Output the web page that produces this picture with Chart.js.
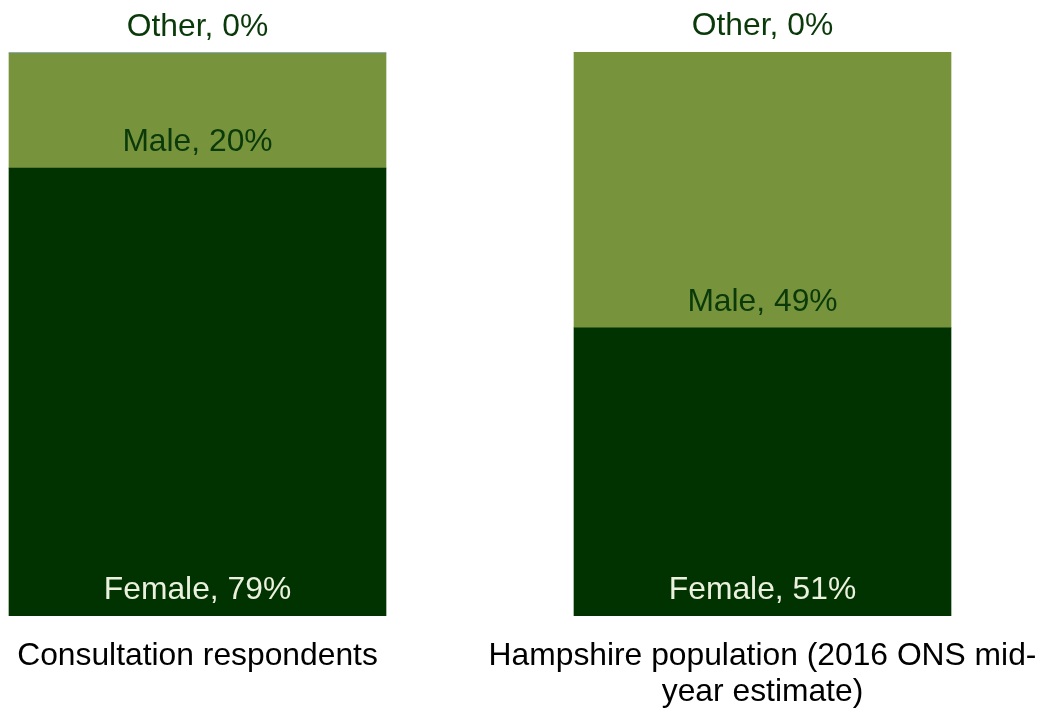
<!DOCTYPE html>
<html>
<head>
<meta charset="utf-8">
<script src="https://cdn.jsdelivr.net/npm/chart.js@4/dist/chart.umd.min.js"></script>
<style>
  html, body { margin: 0; padding: 0; background: #ffffff; overflow: hidden; }
  #wrap { width: 1047px; height: 708px; overflow: hidden; position: relative; }
  #c { position: absolute; left: -85px; top: 0; }
</style>
</head>
<body>
<div id="wrap"><canvas id="c" width="1132" height="708"></canvas></div>
<script>
// Categories (tick labels)
const categories = [
  ["Consultation respondents"],
  ["Hampshire population (2016 ONS mid-", "year estimate)"]
];

// Series values (percent)
const femaleValues = [79.4, 51.1];
const maleValues   = [20.4, 48.9];
const otherValues  = [0.2, 0];

const seriesNames = ["Female", "Male", "Other"];

const FONT = "'Liberation Sans', Arial, Helvetica, sans-serif";
const FONT_SIZE = 31.8;

const labelColors = ["#EBF1DE", "#0a3a0a", "#0a3a0a"];

const labelPlugin = {
  id: 'segLabels',
  afterDatasetsDraw(chart) {
    const ctx = chart.ctx;
    ctx.save();
    ctx.font = FONT_SIZE + "px " + FONT;
    ctx.textAlign = 'center';
    ctx.textBaseline = 'middle';
    chart.data.datasets.forEach((ds, di) => {
      const meta = chart.getDatasetMeta(di);
      meta.data.forEach((el, i) => {
        const v = ds.data[i];
        const text = ds.label + ", " + Math.round(v) + "%";
        ctx.fillStyle = labelColors[di];
        ctx.fillText(text, el.x, el.base - 25.5);
      });
    });
    ctx.restore();
  }
};

new Chart(document.getElementById('c'), {
  type: 'bar',
  data: {
    labels: categories,
    datasets: [
      { label: seriesNames[0], data: femaleValues, backgroundColor: '#003300', barThickness: 377 },
      { label: seriesNames[1], data: maleValues,   backgroundColor: '#77933C', barThickness: 377 },
      { label: seriesNames[2], data: otherValues,  backgroundColor: '#95B3D7', barThickness: 377 }
    ]
  },
  options: {
    responsive: false,
    animation: false,
    layout: { padding: { top: 52, bottom: 0, left: 0, right: 2 } },
    plugins: {
      legend: { display: false },
      tooltip: { enabled: false }
    },
    scales: {
      x: {
        stacked: true,
        grid: { display: false, drawTicks: false, tickLength: 0 },
        border: { display: false },
        afterFit: (scale) => {
          scale.height = 92;
          scale.paddingLeft = 0;
          scale.paddingRight = 0;
        },
        ticks: {
          autoSkip: false,
          maxRotation: 0,
          minRotation: 0,
          padding: 22,
          color: '#000000',
          font: { family: FONT, size: FONT_SIZE, lineHeight: 1.14 }
        }
      },
      y: {
        stacked: true,
        display: false,
        min: 0,
        max: 100
      }
    }
  },
  plugins: [labelPlugin]
});
</script>
</body>
</html>
